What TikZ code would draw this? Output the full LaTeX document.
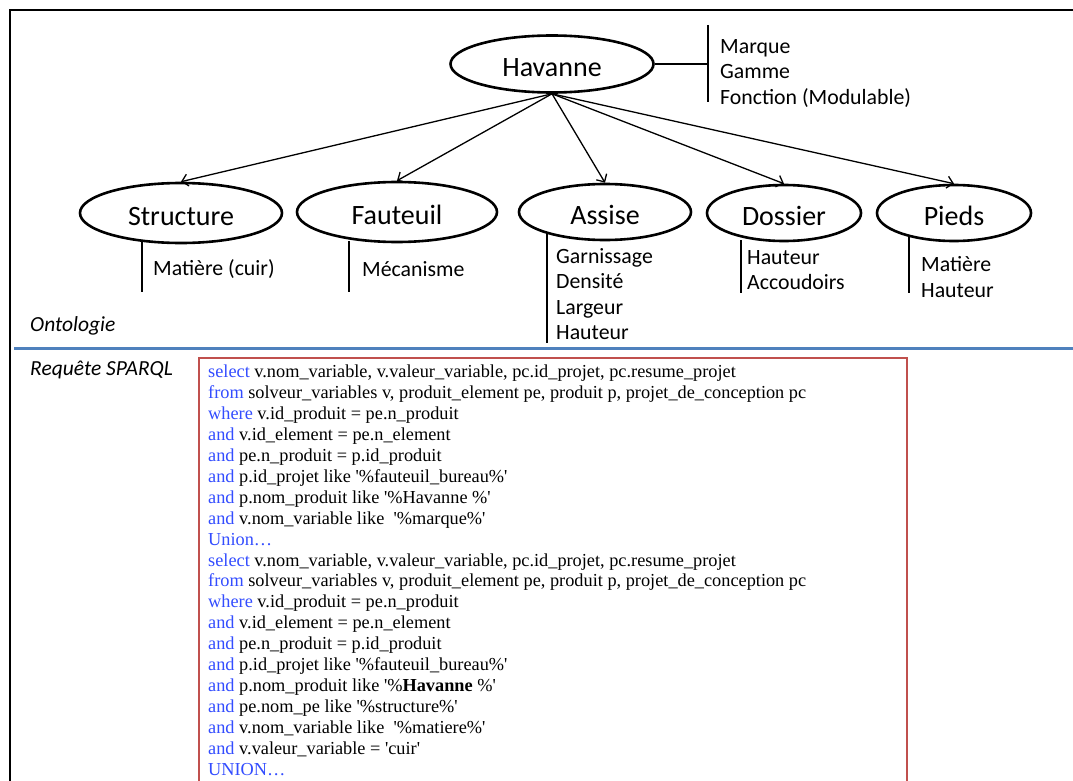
\documentclass[tikz,border=0pt]{standalone}
\usepackage{fontspec}
\setmainfont{Carlito}
\newfontfamily\sqlfont{Liberation Serif}
\usetikzlibrary{shapes.geometric, arrows.meta}
\definecolor{kwblue}{RGB}{51,77,255}
\definecolor{boxred}{RGB}{192,80,77}
\definecolor{lineblue}{RGB}{79,129,189}
\tikzstyle{concept} = [draw=black, line width=2.6pt, ellipse, inner sep=0pt,
    minimum height=57pt, text height=25pt, text depth=0pt,
    font=\fontsize{28}{33}\selectfont]
\tikzstyle{attr} = [align=left, inner sep=0pt, anchor=west,
    font=\fontsize{21.8}{25.5}\selectfont]
\tikzstyle{bar} = [line width=1.4pt]
\tikzstyle{link} = [-{Straight Barb[length=6pt, width=12pt]}, line width=1.3pt]
\tikzstyle{caption} = [anchor=west, inner sep=0pt, font=\fontsize{21.5}{25}\selectfont\itshape]
\tikzstyle{query} = [align=left, inner sep=0pt, anchor=north west,
    font=\sqlfont\fontsize{18.3}{20.9}\selectfont]
\newcommand{\kw}[1]{\textcolor{kwblue}{#1}}
\newcommand{\q}{\textquotesingle}

\begin{document}
\begin{tikzpicture}[x=1pt, y=-1pt]
    \useasboundingbox (0,0) rectangle (1073,781);
    \clip (0,0) rectangle (1073,781);
    \fill[white] (0,0) rectangle (1073,781);
    \draw[line width=2.4pt] (10,10) rectangle (1100,810);

    \node[concept, minimum width=203pt] (havanne) at (552,64) {Havanne};
    \node[concept, minimum width=202pt, minimum height=60pt] (structure) at (181,213) {Structure};
    \node[concept, minimum width=200pt, minimum height=60pt] (fauteuil) at (397,212) {Fauteuil};
    \node[concept, minimum width=172pt, minimum height=56pt] (assise) at (605,212) {Assise};
    \node[concept, minimum width=154pt, minimum height=56pt] (dossier) at (784,213) {Dossier};
    \node[concept, minimum width=154pt, minimum height=56pt] (pieds) at (954,213) {Pieds};

    \foreach \child in {structure, fauteuil, assise, dossier, pieds}
        \draw[link] (havanne.south) -- (\child.north);

    \node[attr] (attH) at (720,73.5) {Marque\\Gamme\\Fonction (Modulable)};
    \draw[bar] (708,25) -- (708,102);
    \draw[bar] (havanne.east) -- (havanne.east -| 708,0);

    \node[attr] (attS) at (153,269) {Matière (cuir)};
    \draw[bar] (structure.south -| 142,0) ++(0,-2) -- (142,292);
    \node[attr] (attF) at (362,269) {Mécanisme};
    \draw[bar] (fauteuil.south -| 349,0) ++(0,-2) -- (349,292);
    \node[attr] (attA) at (556,294) {Garnissage\\Densité\\Largeur\\Hauteur};
    \draw[bar] (547,233) -- (547,343);
    \node[attr] (attD) at (747,270) {Hauteur\\Accoudoirs};
    \draw[bar] (741,240) -- (741,293);
    \node[attr] (attP) at (921,277) {Matière\\Hauteur};
    \draw[bar] (909,237) -- (909,293);

    \node[caption] (onto) at (30,326) {Ontologie};
    \draw[lineblue, line width=3pt] (14,348) -- (1073,348);
    \node[caption] (sparql) at (30,370) {Requête SPARQL};

    \draw[boxred, line width=2pt] (199,358) rectangle (907,820);
    \node[query] (req) at (208,365) {%
        \kw{select} v.nom\_variable, v.valeur\_variable, pc.id\_projet, pc.resume\_projet\\
        \kw{from} solveur\_variables v, produit\_element pe, produit p, projet\_de\_conception pc\\
        \kw{where} v.id\_produit = pe.n\_produit\\
        \kw{and} v.id\_element = pe.n\_element\\
        \kw{and} pe.n\_produit = p.id\_produit\\
        \kw{and} p.id\_projet like \q\%fauteuil\_bureau\%\q\\
        \kw{and} p.nom\_produit like \q\%Havanne \%\q\\
        \kw{and} v.nom\_variable like\ \ \q\%marque\%\q\\
        \kw{Union…}\\
        \kw{select} v.nom\_variable, v.valeur\_variable, pc.id\_projet, pc.resume\_projet\\
        \kw{from} solveur\_variables v, produit\_element pe, produit p, projet\_de\_conception pc\\
        \kw{where} v.id\_produit = pe.n\_produit\\
        \kw{and} v.id\_element = pe.n\_element\\
        \kw{and} pe.n\_produit = p.id\_produit\\
        \kw{and} p.id\_projet like \q\%fauteuil\_bureau\%\q\\
        \kw{and} p.nom\_produit like \q\%\textbf{Havanne} \%\q\\
        \kw{and} pe.nom\_pe like \q\%structure\%\q\\
        \kw{and} v.nom\_variable like\ \ \q\%matiere\%\q\\
        \kw{and} v.valeur\_variable = \q{}cuir\q\\
        \kw{UNION…}};
\end{tikzpicture}
\end{document}
